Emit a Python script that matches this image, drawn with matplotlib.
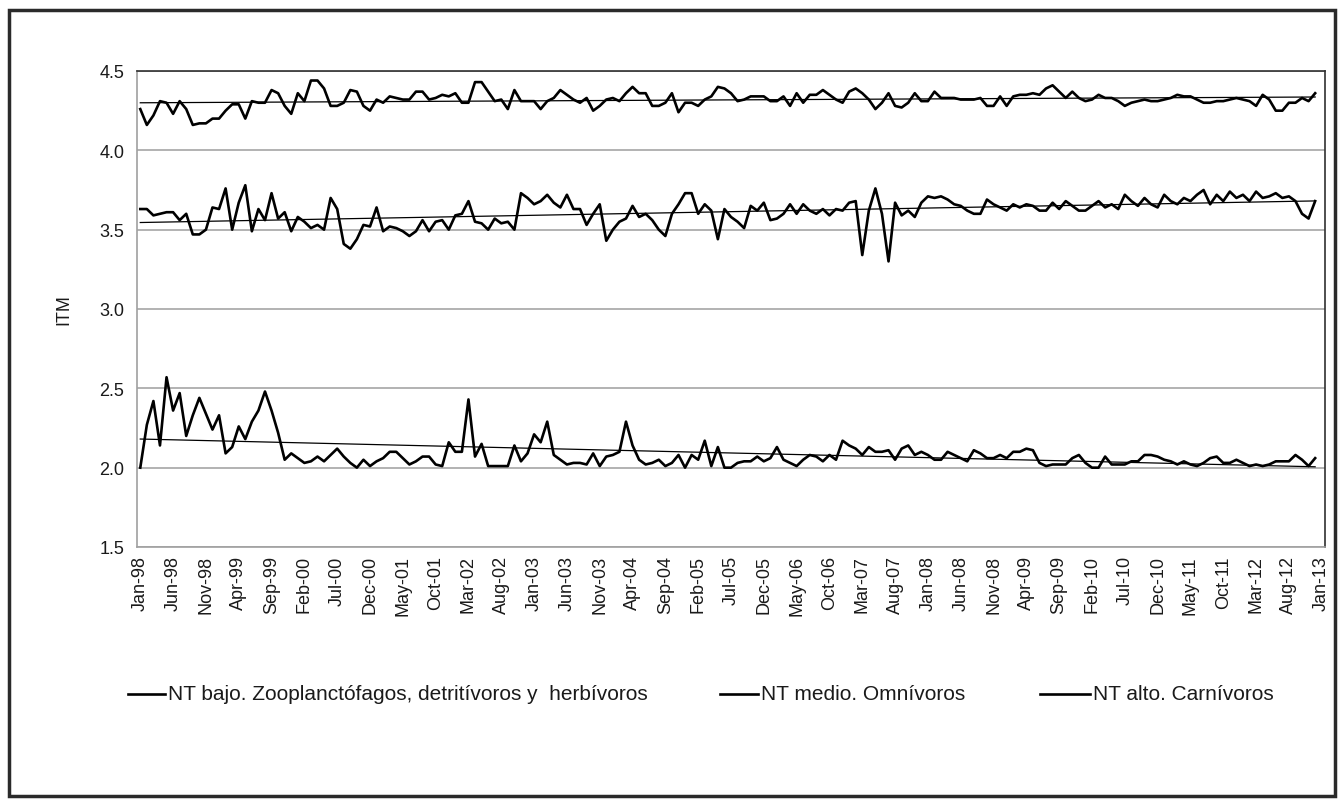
import numpy as np
import pandas as pd
import matplotlib
matplotlib.use("Agg")
import matplotlib.pyplot as plt
from matplotlib.patches import Rectangle
from matplotlib.lines import Line2D

plt.rcParams['font.family'] = ['Liberation Sans', 'DejaVu Sans']

# ITM mensual, ene-98 a dic-12
nt_alto = [4.26, 4.16, 4.22, 4.31, 4.30, 4.23, 4.31, 4.26, 4.16, 4.17,
           4.17, 4.20, 4.20, 4.25, 4.29, 4.29, 4.20, 4.31, 4.30, 4.30,
           4.38, 4.36, 4.28, 4.23, 4.36, 4.31, 4.44, 4.44, 4.39, 4.28,
           4.28, 4.30, 4.38, 4.37, 4.28, 4.25, 4.32, 4.30, 4.34, 4.33,
           4.32, 4.32, 4.37, 4.37, 4.32, 4.33, 4.35, 4.34, 4.36, 4.30,
           4.30, 4.43, 4.43, 4.37, 4.31, 4.32, 4.26, 4.38, 4.31, 4.31,
           4.31, 4.26, 4.31, 4.33, 4.38, 4.35, 4.32, 4.30, 4.33, 4.25,
           4.28, 4.32, 4.33, 4.31, 4.36, 4.40, 4.36, 4.36, 4.28, 4.28,
           4.30, 4.36, 4.24, 4.30, 4.30, 4.28, 4.32, 4.34, 4.40, 4.39,
           4.36, 4.31, 4.32, 4.34, 4.34, 4.34, 4.31, 4.31, 4.34, 4.28,
           4.36, 4.30, 4.35, 4.35, 4.38, 4.35, 4.32, 4.30, 4.37, 4.39,
           4.36, 4.32, 4.26, 4.30, 4.36, 4.28, 4.27, 4.30, 4.36, 4.31,
           4.31, 4.37, 4.33, 4.33, 4.33, 4.32, 4.32, 4.32, 4.33, 4.28,
           4.28, 4.34, 4.28, 4.34, 4.35, 4.35, 4.36, 4.35, 4.39, 4.41,
           4.37, 4.33, 4.37, 4.33, 4.31, 4.32, 4.35, 4.33, 4.33, 4.31,
           4.28, 4.30, 4.31, 4.32, 4.31, 4.31, 4.32, 4.33, 4.35, 4.34,
           4.34, 4.32, 4.30, 4.30, 4.31, 4.31, 4.32, 4.33, 4.32, 4.31,
           4.28, 4.35, 4.32, 4.25, 4.25, 4.30, 4.30, 4.33, 4.31, 4.36]

nt_medio = [3.63, 3.63, 3.59, 3.60, 3.61, 3.61, 3.56, 3.60, 3.47, 3.47,
            3.50, 3.64, 3.63, 3.76, 3.50, 3.67, 3.78, 3.49, 3.63, 3.56,
            3.73, 3.57, 3.61, 3.49, 3.58, 3.55, 3.51, 3.53, 3.50, 3.70,
            3.63, 3.41, 3.38, 3.44, 3.53, 3.52, 3.64, 3.49, 3.52, 3.51,
            3.49, 3.46, 3.49, 3.56, 3.49, 3.55, 3.56, 3.50, 3.59, 3.60,
            3.68, 3.55, 3.54, 3.50, 3.57, 3.54, 3.55, 3.50, 3.73, 3.70,
            3.66, 3.68, 3.72, 3.67, 3.64, 3.72, 3.63, 3.63, 3.53, 3.60,
            3.66, 3.43, 3.50, 3.55, 3.57, 3.65, 3.58, 3.60, 3.56, 3.50,
            3.46, 3.60, 3.66, 3.73, 3.73, 3.60, 3.66, 3.62, 3.44, 3.63,
            3.58, 3.55, 3.51, 3.65, 3.62, 3.67, 3.56, 3.57, 3.60, 3.66,
            3.60, 3.66, 3.62, 3.60, 3.63, 3.59, 3.63, 3.62, 3.67, 3.68,
            3.34, 3.62, 3.76, 3.60, 3.30, 3.67, 3.59, 3.62, 3.58, 3.67,
            3.71, 3.70, 3.71, 3.69, 3.66, 3.65, 3.62, 3.60, 3.60, 3.69,
            3.66, 3.64, 3.62, 3.66, 3.64, 3.66, 3.65, 3.62, 3.62, 3.67,
            3.63, 3.68, 3.65, 3.62, 3.62, 3.65, 3.68, 3.64, 3.66, 3.63,
            3.72, 3.68, 3.65, 3.70, 3.66, 3.64, 3.72, 3.68, 3.66, 3.70,
            3.68, 3.72, 3.75, 3.66, 3.72, 3.68, 3.74, 3.70, 3.72, 3.68,
            3.74, 3.70, 3.71, 3.73, 3.70, 3.71, 3.68, 3.60, 3.57, 3.68]

nt_bajo = [2.00, 2.27, 2.42, 2.14, 2.57, 2.36, 2.47, 2.20, 2.33, 2.44,
           2.34, 2.24, 2.33, 2.09, 2.13, 2.26, 2.18, 2.29, 2.36, 2.48,
           2.36, 2.22, 2.05, 2.09, 2.06, 2.03, 2.04, 2.07, 2.04, 2.08,
           2.12, 2.07, 2.03, 2.00, 2.05, 2.01, 2.04, 2.06, 2.10, 2.10,
           2.06, 2.02, 2.04, 2.07, 2.07, 2.02, 2.01, 2.16, 2.10, 2.10,
           2.43, 2.07, 2.15, 2.01, 2.01, 2.01, 2.01, 2.14, 2.04, 2.09,
           2.21, 2.16, 2.29, 2.08, 2.05, 2.02, 2.03, 2.03, 2.02, 2.09,
           2.01, 2.07, 2.08, 2.10, 2.29, 2.14, 2.05, 2.02, 2.03, 2.05,
           2.01, 2.03, 2.08, 2.00, 2.08, 2.05, 2.17, 2.01, 2.13, 2.00,
           2.00, 2.03, 2.04, 2.04, 2.07, 2.04, 2.06, 2.13, 2.05, 2.03,
           2.01, 2.05, 2.08, 2.07, 2.04, 2.08, 2.05, 2.17, 2.14, 2.12,
           2.08, 2.13, 2.10, 2.10, 2.11, 2.05, 2.12, 2.14, 2.08, 2.10,
           2.08, 2.05, 2.05, 2.10, 2.08, 2.06, 2.04, 2.11, 2.09, 2.06,
           2.06, 2.08, 2.06, 2.10, 2.10, 2.12, 2.11, 2.03, 2.01, 2.02,
           2.02, 2.02, 2.06, 2.08, 2.03, 2.00, 2.00, 2.07, 2.02, 2.02,
           2.02, 2.04, 2.04, 2.08, 2.08, 2.07, 2.05, 2.04, 2.02, 2.04,
           2.02, 2.01, 2.03, 2.06, 2.07, 2.03, 2.03, 2.05, 2.03, 2.01,
           2.02, 2.01, 2.02, 2.04, 2.04, 2.04, 2.08, 2.05, 2.01, 2.06]

etiquetas = ["NT bajo. Zooplanctófagos, detritívoros y  herbívoros",
             "NT medio. Omnívoros",
             "NT alto. Carnívoros"]

# eje de categorias: ene-98 ... ene-13 (181 meses)
meses = pd.date_range("1998-01-01", periods=181, freq="MS").strftime("%b-%y")

W, H = 1340, 803
fig = plt.figure(figsize=(W / 100, H / 100), dpi=100)
ax = fig.add_axes([137/W, 1 - 548/H, 1188/W, 476/H])

x = np.arange(len(nt_bajo))
for serie in [nt_bajo, nt_medio, nt_alto]:
    y = np.array(serie)
    ax.plot(x, y, color="black", lw=1.9, zorder=3)
    # linea de tendencia (lineal)
    a, b = np.polyfit(x, y, 1)
    ax.plot(x[[0, -1]], a * x[[0, -1]] + b, color="black", lw=0.9, zorder=4)

ax.set_xlim(-0.5, len(meses) - 0.5)
ax.set_ylim(1.5, 4.5)
ticks_y = np.arange(1.5, 4.51, 0.5)
ax.set_yticks(ticks_y)
ax.set_yticklabels(["%.1f" % v for v in ticks_y])
ax.set_xticks(range(0, len(meses), 5))
ax.set_xticklabels(meses[::5], rotation=90)
ax.tick_params(axis="both", length=0, labelsize=13, colors="#1a1a1a")
ax.tick_params(axis="y", pad=9)
ax.tick_params(axis="x", pad=6)
ax.grid(axis="y", color="#a6a6a6", lw=1.2)
ax.set_axisbelow(True)
ax.set_ylabel("ITM", fontsize=13, color="#1a1a1a")
ax.yaxis.set_label_coords((72 - 137) / 1188, 0.5)

for s in ["left", "bottom"]:
    ax.spines[s].set_color("#a0a0a0")
    ax.spines[s].set_linewidth(1.2)
for s in ["top", "right"]:
    ax.spines[s].set_color("#303030")
    ax.spines[s].set_linewidth(1.2)

# leyenda a mano (como en Excel)
ley_y = 1 - 695 / H
for x0, x1, txt in [(128, 165, etiquetas[0]), (720, 758, etiquetas[1]),
                    (1040, 1090, etiquetas[2])]:
    fig.add_artist(Line2D([x0 / W, x1 / W], [ley_y, ley_y], color="black",
                          lw=1.9, transform=fig.transFigure))
    fig.text((x1 + 3) / W, ley_y, txt, fontsize=15, va="center",
             ha="left", color="#1a1a1a")

# marco exterior
fig.patches.append(Rectangle((9/W, 6/H), 1326/W, 786/H,
                             transform=fig.transFigure, fill=False,
                             edgecolor="#2a2a2a", lw=2.5))

fig.savefig("out.png", dpi=100)
